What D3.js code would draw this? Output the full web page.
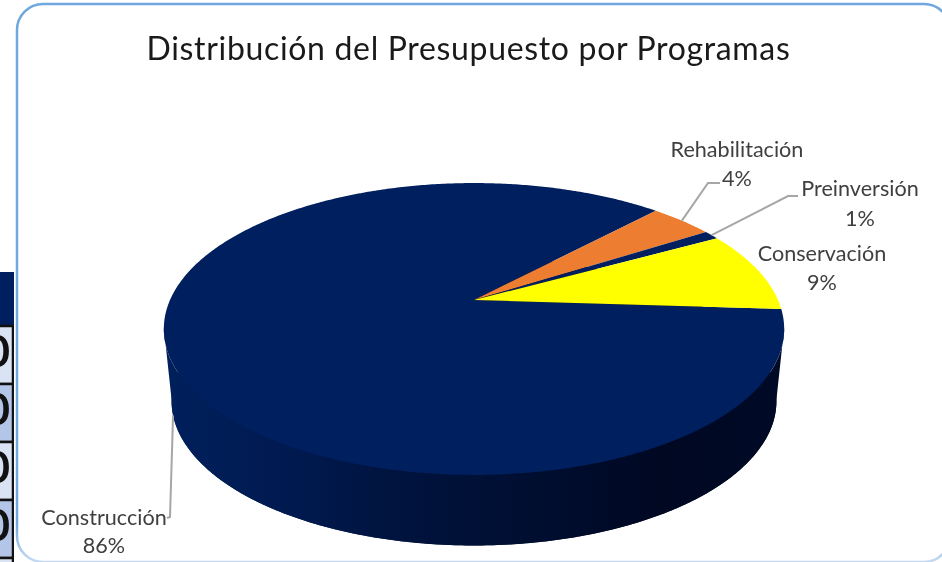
<!DOCTYPE html>
<meta charset="utf-8">
<style>
html, body { margin: 0; padding: 0; background: #fff; overflow: hidden; }
svg { display: block; filter: blur(0.4px); }
text { font-family: Lato, sans-serif; }
</style>
<svg width="942" height="562"></svg>
<script src="https://d3js.org/d3.v7.min.js"></script>
<script>

var chartTitle = "Distribución del Presupuesto por Programas"
var programas = ["Construcción", "Rehabilitación", "Preinversión", "Conservación"]
var porcentajes = [86, 4, 1, 9]
var colores = ["#001f5e", "#ed7d31", "#001f5e", "#ffff00"]

// what is left of the table behind the chart, on the left edge
var tablaCeldas = ["0", "0", "0", "0"]

// label placement, [x, baseline of name, baseline of percent]
var labelPos = [[104, 525, 553], [737, 157, 186], [860, 196, 226], [822, 261, 290]]
// leader line elbows, null when the label has no leader
var leaderPts = [[[170, 517], [167, 518]], [[708, 183], [720, 183]], [[788, 196], [798, 196]], null]

var svg = d3.select("svg")
var defs = svg.append("defs")

// perspective of the pie: persp is how much the back of the disc shrinks
var cx = 474, persp = 0.1986
var xScale = d3.scaleLinear().domain([-1, 1]).range([cx - 304, cx + 304])
var yScale = d3.scaleLinear().domain([-1, 1]).range([380.6, 219.4])

function project(a) {
  var u = Math.sin(a), v = Math.cos(a), w = 1 + persp * v
  return [cx + (xScale(u) - cx) / w, yScale(v) / w]
}

// bottom disc is a bit further away from the camera
function projectLow(a) {
  var p = project(a)
  return [cx + (p[0] - cx) * 0.975, 401 + (p[1] - 329) * 0.99]
}

var line = d3.line()

function arcPts(a0, a1, fn) {
  var n = Math.max(2, Math.ceil(Math.abs(a1 - a0) / 0.01))
  return d3.range(n + 1).map(function(i) { return fn(a0 + (a1 - a0) * i / n) })
}

var rad = Math.PI / 180
var pie = d3.pie().sort(null).startAngle(93.6 * rad).endAngle((93.6 + 360) * rad)
var slices = pie(porcentajes)

// background table fragment
var rowTop = d3.scaleLinear().domain([0, 4]).range([326, 558])
var clip = defs.append("clipPath").attr("id", "tablaClip")
clip.append("rect").attr("x", 0).attr("y", 272).attr("width", 14).attr("height", 290)

var tabla = svg.append("g").attr("clip-path", "url(#tablaClip)")
tabla.append("rect").attr("x", 0).attr("y", 272).attr("width", 14).attr("height", 54).attr("fill", "#001f5e")
tabla.selectAll(".celda").data(tablaCeldas.concat(["0"])).enter().append("rect")
    .attr("class", "celda")
    .attr("x", -4)
    .attr("y", function(d, i) { return rowTop(i) })
    .attr("width", 17)
    .attr("height", rowTop(1) - rowTop(0))
    .attr("fill", function(d, i) { return i % 2 ? "#b4c6e7" : "#dae3f3" })
    .attr("stroke", "#111")
    .attr("stroke-width", 2.5)
tabla.selectAll(".cero").data(tablaCeldas).enter().append("text")
    .attr("class", "cero")
    .attr("x", 10)
    .attr("y", function(d, i) { return rowTop(i) + 41 })
    .attr("text-anchor", "end")
    .attr("font-size", 44)
    .attr("font-weight", 700)
    .attr("fill", "#111")
    .text(function(d) { return d })

// frame, the bottom line fades out in the reference
var marco = defs.append("linearGradient").attr("id", "marco")
    .attr("gradientUnits", "userSpaceOnUse")
    .attr("x1", 0).attr("x2", 0).attr("y1", 4).attr("y2", 562)
marco.selectAll("stop")
    .data([[0, "#6fa8de"], [0.93, "#6fa8de"], [1, "#c5daf2"]])
    .enter().append("stop")
    .attr("offset", function(d) { return d[0] })
    .attr("stop-color", function(d) { return d[1] })

svg.append("rect")
    .attr("x", 17).attr("y", 4)
    .attr("width", 933).attr("height", 558)
    .attr("rx", 26)
    .attr("fill", "#fff")
    .attr("stroke", "url(#marco)")
    .attr("stroke-width", 2.5)

// wall of the pie
var grad = defs.append("linearGradient").attr("id", "pared")
    .attr("gradientUnits", "userSpaceOnUse")
    .attr("x1", 164).attr("x2", 784).attr("y1", 0).attr("y2", 0)
grad.selectAll("stop")
    .data([[0, "#00205c"], [0.2, "#001a50"], [0.35, "#001440"], [0.55, "#000f33"], [0.8, "#000822"], [1, "#000a26"]])
    .enter().append("stop")
    .attr("offset", function(d) { return d[0] })
    .attr("stop-color", function(d) { return d[1] })

var wallA0 = 101 * rad, wallA1 = 259 * rad
svg.append("path")
    .attr("d", line(arcPts(0, 2 * Math.PI, projectLow)) + "Z")
    .attr("fill", "url(#pared)")
svg.append("path")
    .attr("d", line(arcPts(wallA0, wallA1, project).concat(arcPts(wallA1, wallA0, projectLow))) + "Z")
    .attr("fill", "url(#pared)")

// top of the pie
svg.selectAll(".slice").data(slices).enter().append("path")
    .attr("class", "slice")
    .attr("d", function(d) {
      return line([[cx, yScale(0)]].concat(arcPts(d.startAngle, d.endAngle, project))) + "Z"
    })
    .attr("fill", function(d, i) { return colores[i] })

// leader lines
slices.forEach(function(d, i) {
  if (!leaderPts[i]) return
  var a = i === 0 ? 253 * rad : (d.startAngle + d.endAngle) / 2
  var start = i === 0 ? projectLow(a) : project(a)
  svg.append("path")
      .attr("d", line([start].concat(leaderPts[i])))
      .attr("fill", "none")
      .attr("stroke", "#a6a6a6")
      .attr("stroke-width", 2)
})

// labels
var labels = svg.selectAll(".etiqueta").data(programas).enter().append("g").attr("class", "etiqueta")
labels.append("text")
    .attr("x", function(d, i) { return labelPos[i][0] })
    .attr("y", function(d, i) { return labelPos[i][1] })
    .attr("text-anchor", "middle")
    .attr("font-size", 21.6)
    .attr("fill", "#404040")
    .text(function(d) { return d })
labels.append("text")
    .attr("x", function(d, i) { return labelPos[i][0] })
    .attr("y", function(d, i) { return labelPos[i][2] })
    .attr("text-anchor", "middle")
    .attr("font-size", 21.6)
    .attr("fill", "#404040")
    .text(function(d, i) { return porcentajes[i] + "%" })

svg.append("text")
    .attr("x", 468.5).attr("y", 60)
    .attr("text-anchor", "middle")
    .attr("font-size", 32)
    .attr("letter-spacing", 0.67)
    .attr("fill", "#1a1a1a")
    .text(chartTitle)

</script>
</html>
